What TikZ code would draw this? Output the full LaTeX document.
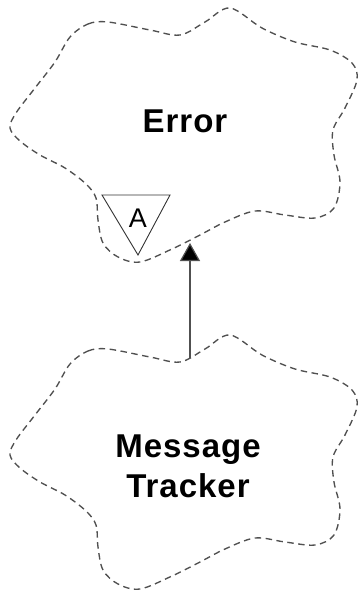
\documentclass[tikz,border=0pt]{standalone}
\usepackage{fontspec}
\setmainfont{Liberation Sans}
\newfontfamily\classfont[LetterSpace=3]{Liberation Sans}
\usetikzlibrary{arrows.meta}
\definecolor{cloudgray}{HTML}{505050}
\tikzset{
  cloudline/.style={draw=cloudgray, line width=1.35pt, dash pattern=on 6.5pt off 4.5pt},
  classname/.style={font=\classfont\bfseries\fontsize{33}{40}\selectfont, align=center, inner sep=0pt},
  absmark/.style={draw=black!80, line width=0.9pt},
  genarrow/.style={draw=cloudgray, line width=1.2pt, -{Triangle[width=20pt,length=18pt,fill=black]}}
}
\begin{document}
\begin{tikzpicture}[x=1pt,y=-1pt]
\useasboundingbox (0,0) rectangle (359,595);
\newcommand{\cloudpath}{plot[smooth cycle, tension=0.55] coordinates {
 (70,37) (88,24) (108,22) (150,30) (180,35) (205,22) (230,8) (262,28) (295,42) (330,50) (352,63) (357,80)
 (345,108) (333,130) (334,155) (340,182) (334,208) (315,218) (285,215) (255,211) (225,222) (200,235)
 (172,249) (140,262) (118,257) (103,243) (98,220) (96,198) (86,184) (65,168) (40,155) (20,141) (10,128)
 (16,113) (35,88) (55,62)}}
% Error cloud
\draw[cloudline] \cloudpath;
\node[classname, anchor=base] (err) at (185,132) {Error};
% abstract marker
\draw[absmark] (102,195) -- (170,195) -- (138,255) -- cycle;
\node[font=\fontsize{27}{27}\selectfont, inner sep=0pt, anchor=base] (abs) at (138,227) {A};
% Message Tracker cloud
\begin{scope}[yshift=-327pt]
\draw[cloudline] \cloudpath;
\end{scope}
\node[classname, anchor=base] (mt1) at (188,457) {Message};
\node[classname, anchor=base] (mt2) at (188,497) {Tracker};
% generalization
\coordinate (mtTop) at (190,358);
\coordinate (errBot) at (190,243);
\draw[genarrow] (mtTop) -- (errBot);
\end{tikzpicture}
\end{document}
